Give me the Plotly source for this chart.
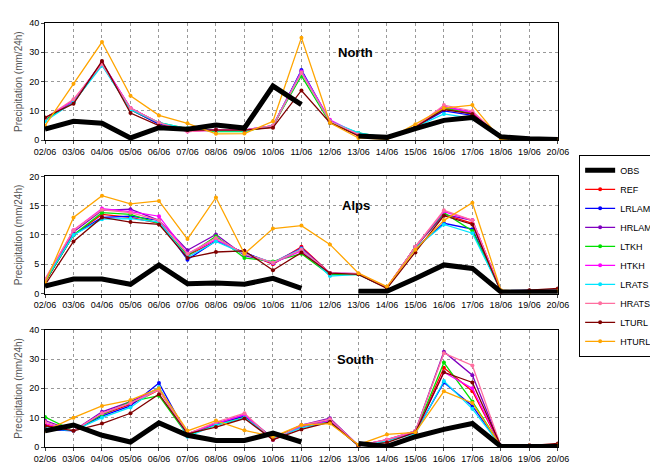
import plotly.graph_objects as go
from plotly.subplots import make_subplots

dates = ["02/06","03/06","04/06","05/06","06/06","07/06","08/06","09/06","10/06","11/06",
         "12/06","13/06","14/06","15/06","16/06","17/06","18/06","19/06","20/06"]
names = ["OBS","REF","LRLAM","HRLAM","LTKH","HTKH","LRATS","HRATS","LTURL","HTURL"]
colors = ["#000000","#ff0000","#0000ff","#8000c0","#00e000","#ff00ff","#00e5ff","#ff6fa0","#800000","#ffa500"]
N = None
north = {
 "OBS":  [3.8,6.5,5.8,0.8,4.3,3.8,5.2,4.2,18.5,12.2,N,1.5,1.0,4.0,6.8,7.8,1.2,0.5,0.3],
 "REF":  [7.5,13,26.5,10.5,5.5,4,3.5,3.5,4.5,23.5,6.5,2,0.8,4.5,11,9,1,0.5,0.3],
 "LRLAM":[7,13,26,10.5,5.5,4,3.5,3.5,4.8,24,6.5,2,0.8,4.5,10,8.5,1,0.5,0.3],
 "HRLAM":[7.5,13.5,26.5,11,6,3.5,3.5,3.5,5,23.5,6.5,2.2,0.8,4.5,11.5,9.5,1,0.5,0.3],
 "LTKH": [7,13,26,10.5,6,4,3,3,5,22,6,2.5,0.8,4.5,11,9,1,0.5,0.3],
 "HTKH": [7.5,13.5,26.5,11,6,3,3.5,3.5,5,23.5,7,2,0.8,4.5,11.5,9.5,1,0.5,0.3],
 "LRATS":[6.5,13,25.5,10.5,6,4,3.2,3.2,5,23,6.5,2.5,1,4.5,9,7.5,1,0.5,0.3],
 "HRATS":[7.5,14,26,11,6,3,3.5,3.5,5,23,6.5,2,0.8,4.5,12,10,1,0.5,0.3],
 "LTURL":[7.8,12.5,27,9.3,5,3.5,3.5,3.5,4.3,17,6,1.5,0.8,4.5,10.5,9,1,0.5,0.3],
 "HTURL":[5,19.3,33.5,15.2,8.5,5.8,2.2,2.3,6.5,35,6,0.8,0.3,5.5,11,12,0.3,0.2,0.2],
}
alps = {
 "OBS":  [1.3,2.5,2.5,1.6,4.9,1.7,1.8,1.6,2.6,0.9,N,0.4,0.4,2.6,4.9,4.3,0.3,0.3,0.3],
 "REF":  [2,10,13.5,13,12,6.5,9,7,5,8,3.5,3.3,1,8,13.5,12,0.5,0.5,0.7],
 "LRLAM":[2,10,13,13.2,12.5,5.8,9,7,5.2,7.5,3.3,3.3,1,7.8,12,11,0.5,0.5,0.6],
 "HRLAM":[2.3,10.5,14.2,14.4,12.5,7.4,10.1,6.5,5.3,7.8,3.5,3.4,1,8,13.5,12.5,0.5,0.5,0.6],
 "LTKH": [2,10,13.8,13.5,12,6.5,9.8,6.1,5.5,6.8,3.2,3.3,1,8,13.8,10.7,0.5,0.5,0.6],
 "HTKH": [2.3,10.8,14.5,14,13.2,6.8,9.2,6.8,5.2,7.3,3.5,3.4,1,8,14,12.5,0.5,0.5,0.6],
 "LRATS":[2.2,10,12.7,12.8,12.2,6.2,8.9,6.8,5.3,7.6,3,3.3,1,7.8,11.8,10.3,0.5,0.5,0.6],
 "HRATS":[2.5,10.8,14.3,13.8,12.5,6.8,9.5,6.8,5.3,7.5,3.5,3.4,1.1,8,14.2,12.5,0.5,0.5,0.6],
 "LTURL":[1.5,8.9,13,12.2,11.8,6.1,7.1,7.3,4,7,3.5,3.3,0.9,7,13.3,11.8,0.3,0.6,0.9],
 "HTURL":[1.8,13,16.7,15.3,15.8,9.3,16.4,6.8,11.1,11.6,8.4,3.5,1.2,7.5,12.5,15.5,0.6,0.3,0.5],
}
south = {
 "OBS":  [5.5,7.5,4,1.7,8.2,4,2.2,2.2,4.7,1.7,N,1.2,0.2,3.5,6,8,0.2,0.2,0.2],
 "REF":  [7.5,5.5,11,14.5,19.5,4.5,7.5,10.5,3,7,8.5,0.5,2,5,27,19,0.3,0.5,0.8],
 "LRLAM":[6,5.5,10.5,14,21.8,4,8,10.5,2.5,7,9,0.5,2,5,22,14,0.3,0.5,0.6],
 "HRLAM":[9,5.5,12,15.5,20,4.5,8,11,3,7.5,9.8,0.5,2.5,5.5,32.5,24.5,0.3,0.5,0.6],
 "LTKH": [10.2,5.5,11,15.5,17.5,4,7.5,10,3,7,9,0.5,2,5,28.8,15.5,0.3,0.5,0.6],
 "HTKH": [8,5.5,11.5,15,20,4.5,8,11,2.5,7,9,0.5,2.5,5,25.5,20,0.3,0.5,0.6],
 "LRATS":[6.5,5.5,10,13.5,20.5,3.5,7.5,10,3,6.5,8.5,0.5,2,4.5,22.5,13,0.3,0.5,0.6],
 "HRATS":[8.5,5.5,11.5,15,19.5,4.5,8.5,11.5,2.5,7.5,9.5,0.5,2.5,5.5,32,27.8,0.3,0.5,0.8],
 "LTURL":[7.2,5.5,8,11.5,18,4.5,6.8,9.7,2.5,6,8.5,0.5,1.5,5,25.5,22,0.3,0.5,1.2],
 "HTURL":[5.5,10,14,16,20,5.5,9,5.7,3.5,7.5,8,0.8,4.3,5,19,15,0.3,0.5,0.5],
}
panels = [("North", north, 40, 10), ("Alps", alps, 20, 5), ("South", south, 40, 10)]

fig = make_subplots(rows=3, cols=1, vertical_spacing=0.085)
order = names[1:] + ["OBS"]
for r, (title, data, ymax, dt) in enumerate(panels, start=1):
    for nm in order:
        i = names.index(nm)
        if nm == "OBS":
            fig.add_trace(go.Scatter(x=dates, y=data[nm], mode="lines", name=nm,
                line=dict(color="black", width=5), showlegend=(r == 1), legendrank=1,
                connectgaps=False), row=r, col=1)
        else:
            fig.add_trace(go.Scatter(x=dates, y=data[nm], mode="lines+markers", name=nm,
                line=dict(color=colors[i], width=1.3), marker=dict(size=4, color=colors[i]),
                showlegend=(r == 1), legendrank=i + 1), row=r, col=1)
    fig.update_yaxes(range=[0, ymax], dtick=dt, row=r, col=1)
    fig.add_annotation(text="<b>" + title + "</b>", x="12/06", xshift=26, y=ymax * 0.75,
                       xref=f"x{r if r > 1 else ''}", yref=f"y{r if r > 1 else ''}",
                       showarrow=False, font=dict(size=13, color="black"))

fig.update_xaxes(type="category", range=[0, 18], showgrid=True, gridcolor="#999999",
                 griddash="dot", showline=True, mirror=True, linecolor="black",
                 ticks="outside", ticklen=3, tickfont=dict(size=9), tickangle=0)
fig.update_yaxes(showgrid=True, gridcolor="#999999", griddash="dot", showline=True,
                 mirror=True, linecolor="black", ticks="outside", ticklen=3,
                 tickfont=dict(size=9), zeroline=False,
                 title=dict(text="Precipitation (mm/24h)", font=dict(size=10, color="#555"), standoff=4))
fig.update_layout(
    width=658, height=466, plot_bgcolor="white", paper_bgcolor="white",
    font=dict(family="Liberation Sans, Arial", color="black"),
    margin=dict(l=36, r=100, t=10, b=20),
    legend=dict(xref="container", yref="container", x=0.868, y=0.685, xanchor="left",
                yanchor="top", bordercolor="black", borderwidth=1, bgcolor="white",
                font=dict(size=9), tracegroupgap=0, itemwidth=30),
)
fig.write_html("out.html")
